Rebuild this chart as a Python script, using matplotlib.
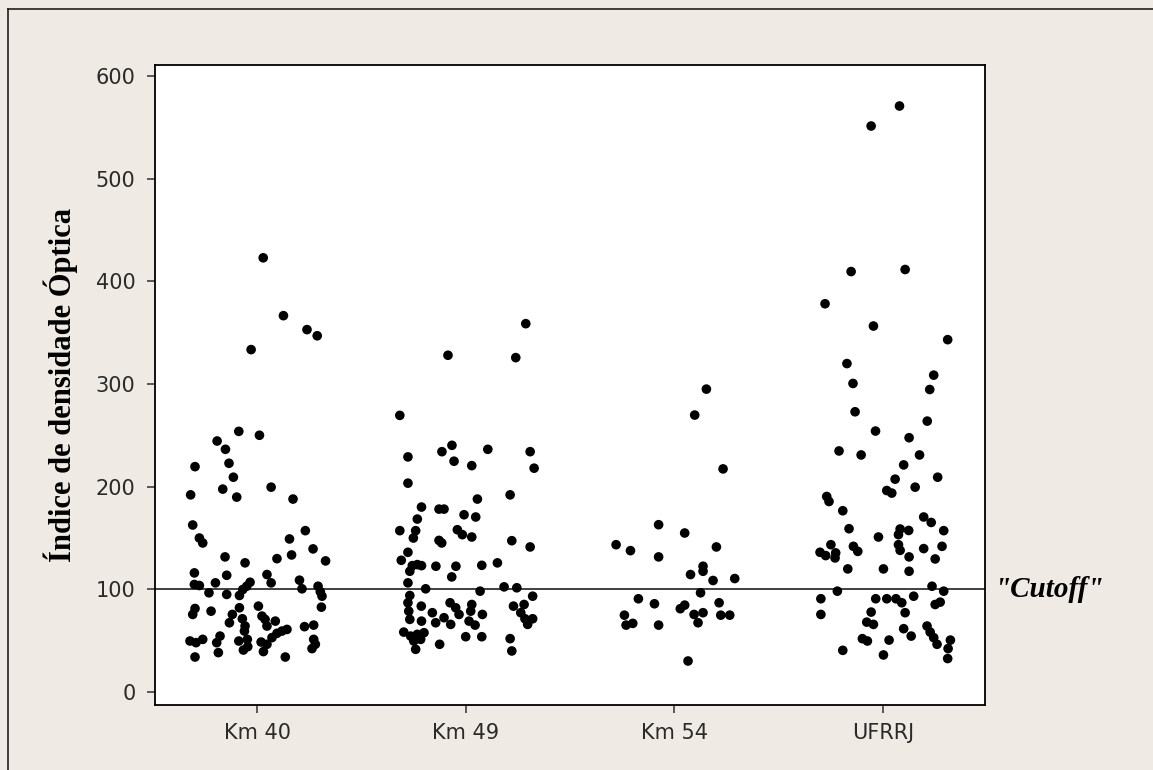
import matplotlib.pyplot as plt
import numpy as np
from matplotlib.lines import Line2D

CATEGORIES = ["Km 40", "Km 49", "Km 54", "UFRRJ"]
CUTOFF = 100
Y_TICKS = [0, 100, 200, 300, 400, 500, 600]

# values, with the horizontal jitter of every dot
KM40_VALUES = [
    423, 366.6, 353, 347, 333.5, 253.8, 250, 244.4, 236.3, 222.7, 219.4,
    209.1, 191.9, 197.5, 189.7, 199.4, 187.8, 162.5, 149.8, 145, 157, 148.9,
    139.2, 133.3, 127.5, 131.4, 125.6, 129.7, 115.8, 113.5, 114.2, 106.1,
    108.7, 100.3, 104.5, 103.5, 106.1, 96.4, 94.8, 93.8, 99.6, 102.8, 106.7,
    102.8, 97.4, 93.1, 82.4, 81.1, 75.3, 78.5, 81.8, 83.4, 75.3, 67.2, 71.1,
    64, 73.7, 70.5, 68.8, 64, 59.1, 51, 49.4, 40.6, 43.9, 48.4, 39.1, 46.2,
    52.7, 56.9, 59.1, 60.7, 63.4, 64.9, 51, 46.2, 42, 49.4, 47.8, 51, 47.8,
    54.2, 38.1, 33.8, 33.8,
]
KM40_JITTER = [
    0.029, 0.126, 0.239, 0.288, -0.029, -0.088, 0.011, -0.192, -0.152, -0.135,
    -0.298, -0.114, -0.319, -0.165, -0.098, 0.067, 0.172, -0.309, -0.277,
    -0.261, 0.231, 0.155, 0.268, 0.165, 0.328, -0.154, -0.058, 0.095, -0.301,
    -0.146, 0.047, 0.067, 0.203, 0.215, -0.301, -0.277, -0.200, -0.231,
    -0.146, -0.085, -0.069, -0.050, -0.034, 0.292, 0.303, 0.311, 0.308,
    -0.298, -0.309, -0.221, -0.085, 0.006, -0.119, -0.133, -0.071, -0.058,
    0.023, 0.038, 0.087, 0.047, -0.061, -0.047, -0.088, -0.066, -0.045, 0.019,
    0.030, 0.047, 0.071, 0.095, 0.119, 0.143, 0.227, 0.271, 0.271, 0.279,
    0.263, -0.322, -0.293, -0.261, -0.194, -0.178, -0.186, -0.298, 0.135,
]

KM49_VALUES = [
    358.8, 328, 325.7, 269.4, 228.9, 234, 240.2, 224.7, 220.4, 236.3, 234,
    217.9, 203.3, 191.9, 187.8, 180, 178, 178, 168.3, 172.5, 170.3, 157, 157,
    149.8, 157.9, 153.1, 150.8, 147.5, 145, 147.2, 141.1, 135.9, 128.1, 122.9,
    123.9, 122.9, 117.4, 122.3, 122.3, 111.9, 123.2, 125.6, 106.1, 100.3, 98,
    102.2, 101.3, 93.8, 93.1, 86.7, 83.4, 86.7, 81.8, 85, 83.4, 85, 78.5, 77,
    75.3, 78.5, 75.3, 77, 70.5, 68.8, 67.2, 72.1, 65.6, 68.8, 64.9, 71.1, 65.6,
    71.1, 58.1, 54.2, 55.9, 57.5, 49.4, 51, 41.3, 46.2, 53.6, 53.6, 51.7, 39.7,
]
KM49_JITTER = [
    0.288, -0.085, 0.240, -0.316, -0.277, -0.114, -0.066, -0.056, 0.029,
    0.106, 0.309, 0.328, -0.277, 0.213, 0.056, -0.212, -0.128, -0.104, -0.232,
    -0.008, 0.048, -0.316, -0.240, -0.251, -0.040, -0.016, 0.029, -0.128,
    -0.115, 0.221, 0.309, -0.277, -0.309, -0.256, -0.232, -0.212, -0.268,
    -0.143, -0.047, -0.067, 0.077, 0.152, -0.277, -0.192, 0.069, 0.184, 0.245,
    -0.268, 0.321, -0.277, -0.213, -0.075, -0.048, 0.029, 0.229, 0.280,
    -0.273, -0.160, -0.032, 0.024, 0.080, 0.264, -0.268, -0.212, -0.144,
    -0.104, -0.072, 0.016, 0.045, 0.284, 0.297, 0.321, -0.297, -0.264, -0.232,
    -0.200, -0.249, -0.216, -0.240, -0.125, 0.000, 0.077, 0.213, 0.221,
]

KM54_VALUES = [
    295, 269.7, 217.2, 162.8, 154.7, 143.3, 137.5, 131.4, 141.1, 122.3, 117.4,
    114.2, 108.4, 110.3, 96.4, 90.6, 85.7, 86.7, 84.4, 80.9, 74.6, 64.9, 66.6,
    64.9, 75.3, 77, 67.2, 74.6, 74.6, 29.9,
]
KM54_JITTER = [
    0.154, 0.098, 0.234, -0.075, 0.050, -0.279, -0.210, -0.075, 0.202, 0.138,
    0.138, 0.078, 0.186, 0.290, 0.126, -0.172, -0.095, 0.215, 0.050, 0.029,
    -0.239, -0.231, -0.199, -0.075, 0.095, 0.138, 0.114, 0.223, 0.266, 0.066,
]

UFRRJ_VALUES = [
    571, 551.5, 409.6, 411.6, 378.2, 356.5, 343.2, 319.9, 308.6, 300.5, 294.6,
    272.9, 263.8, 254.1, 247.6, 234.7, 230.8, 230.8, 221.1, 209.1, 207.2,
    199.4, 196.1, 193.6, 190.3, 185.4, 176.4, 170.3, 165, 158.9, 158.6, 157.2,
    157, 153.1, 150.8, 143.3, 135.9, 132.7, 135.3, 130.4, 141.7, 136.8, 143.3,
    137.8, 139.5, 141.7, 131.4, 129.4, 119.7, 119.7, 117.4, 98, 102.8, 98,
    90.6, 90.6, 90.6, 90.6, 86.7, 93.1, 85, 87.3, 75.3, 77.6, 77, 67.8, 65.6,
    61.4, 54.2, 64, 58.1, 52.7, 46.2, 50.3, 42, 32.3, 51.7, 49.4, 50.3, 40.3,
    35.8,
]
UFRRJ_JITTER = [
    0.080, -0.056, -0.152, 0.107, -0.277, -0.045, 0.311, -0.172, 0.244,
    -0.143, 0.225, -0.133, 0.213, -0.035, 0.126, -0.210, -0.104, 0.176, 0.100,
    0.263, 0.059, 0.155, 0.019, 0.043, -0.269, -0.258, -0.192, 0.196, 0.232,
    -0.162, 0.083, 0.124, 0.292, 0.075, -0.021, -0.249, -0.301, -0.274,
    -0.226, -0.229, -0.141, -0.120, 0.075, 0.083, 0.196, 0.284, 0.126, 0.251,
    -0.168, 0.003, 0.126, -0.218, 0.236, 0.292, -0.297, -0.034, 0.019, 0.063,
    0.091, 0.148, 0.251, 0.275, -0.297, -0.056, 0.107, -0.077, -0.045, 0.100,
    0.136, 0.212, 0.227, 0.244, 0.260, 0.324, 0.313, 0.311, -0.098, -0.074,
    0.030, -0.192, 0.003,
]

GROUPS = [
    (KM40_VALUES, KM40_JITTER),
    (KM49_VALUES, KM49_JITTER),
    (KM54_VALUES, KM54_JITTER),
    (UFRRJ_VALUES, UFRRJ_JITTER),
]

BACKGROUND = "#efeae3"


def plot_dots(ax):
    for i, (values, jitter) in enumerate(GROUPS, start=1):
        x = i + np.asarray(jitter)
        ax.scatter(x, values, s=48, color="black", edgecolors="none", zorder=3)


def main():
    fig = plt.figure(figsize=(11.53, 7.70), dpi=100, facecolor=BACKGROUND)
    ax = fig.add_axes([0.1344, 0.0844, 0.7199, 0.8312])
    ax.set_facecolor("white")

    plot_dots(ax)
    ax.axhline(CUTOFF, color="#404040", linewidth=1.4, zorder=2)

    ax.set_xlim(0.51, 4.49)
    ax.set_ylim(-13, 611)
    ax.set_xticks(range(1, len(CATEGORIES) + 1))
    ax.set_xticklabels(CATEGORIES)
    ax.set_yticks(Y_TICKS)

    for spine in ax.spines.values():
        spine.set_linewidth(1.3)
        spine.set_color("black")
    ax.tick_params(axis="both", direction="out", length=6, width=1.1,
                   labelsize=15, labelcolor="#2a2a2a", color="#303030")
    ax.tick_params(axis="y", pad=8)
    ax.tick_params(axis="x", pad=7)

    ax.set_ylabel("Índice de densidade Óptica", family="Liberation Serif",
                  fontweight="bold", fontsize=22, labelpad=13)

    ax.text(1.012, CUTOFF, '"Cutoff"', transform=ax.get_yaxis_transform(),
            family="Liberation Serif", fontstyle="italic", fontweight="bold",
            fontsize=21, ha="left", va="center")

    # outer frame, only top and left edges are visible in the original
    fig.add_artist(Line2D([8 / 1153, 8 / 1153], [1 - 9 / 770, 0], color="#202020",
                          linewidth=1.2, transform=fig.transFigure))
    fig.add_artist(Line2D([8 / 1153, 1], [1 - 9 / 770, 1 - 9 / 770], color="#202020",
                          linewidth=1.2, transform=fig.transFigure))

    fig.savefig("out.png", dpi=100, facecolor=BACKGROUND)


if __name__ == "__main__":
    main()
